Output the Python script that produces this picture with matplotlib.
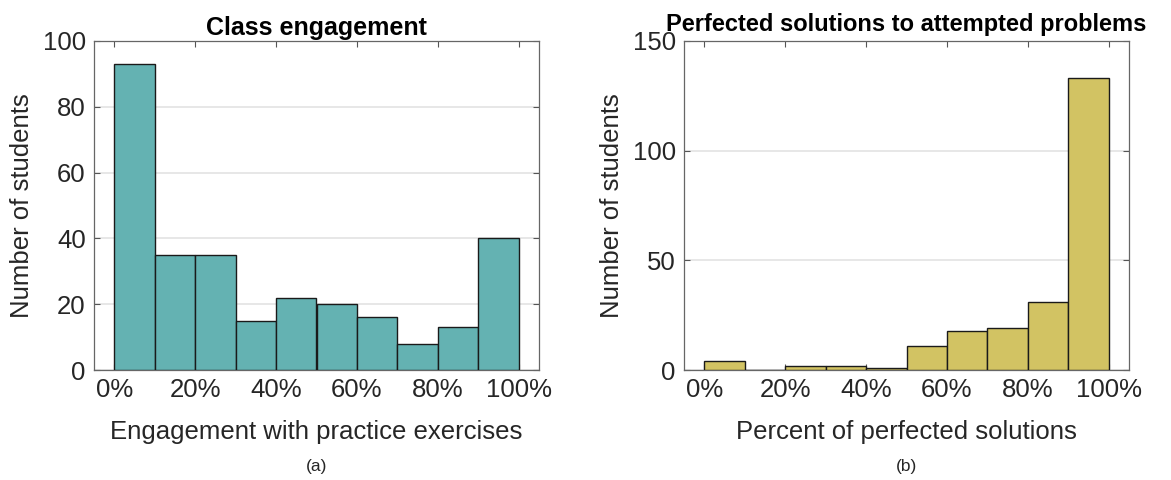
import numpy as np
import matplotlib
matplotlib.use('Agg')
import matplotlib.pyplot as plt
from matplotlib.ticker import PercentFormatter

plt.rcParams['font.family'] = ['Liberation Sans', 'DejaVu Sans']

# histogram bins (fraction of exercises), 10 equal bins from 0 to 1
bin_edges = np.linspace(0, 1, 11)

# counts per bin
engagement_counts = [93, 35, 35, 15, 22, 20, 16, 8, 13, 40]
perfected_counts = [4, 0, 2, 2, 1, 11, 18, 19, 31, 133]

x_ticks = [0, 0.2, 0.4, 0.6, 0.8, 1.0]
left_yticks = [0, 20, 40, 60, 80, 100]
right_yticks = [0, 50, 100, 150]

text_col = '#262626'
W, H = 1171, 480

fig = plt.figure(figsize=(W / 100, H / 100), dpi=100)
ax1 = fig.add_axes([94 / W, 110 / H, 445 / W, 329 / H])
ax2 = fig.add_axes([684 / W, 110 / H, 445 / W, 329 / H])


def histPanel(ax, counts, color, yticks, xlabel, title, tag, title_size,
              title_pad):
    widths = np.diff(bin_edges)
    ax.bar(bin_edges[:-1], counts, width=widths, align='edge',
           color=color, edgecolor='#1a1a1a', linewidth=1.0, zorder=3)
    ax.set_xlim(-0.05, 1.05)
    ax.set_ylim(yticks[0], yticks[-1])
    ax.set_xticks(x_ticks)
    ax.set_yticks(yticks)
    ax.xaxis.set_major_formatter(PercentFormatter(1.0, decimals=0))
    ax.yaxis.grid(True, color='#e3e3e3', linewidth=1.2, zorder=0)
    ax.set_axisbelow(True)
    ax.tick_params(direction='in', length=4, width=0.8, colors='#555555',
                   labelcolor=text_col, labelsize=18.5, top=True, right=True,
                   pad=6)
    for s in ax.spines.values():
        s.set_color('#666666')
        s.set_linewidth(0.9)
    ax.set_xlabel(xlabel, fontsize=18.5, color=text_col)
    ax.xaxis.set_label_coords(0.5, -0.188)
    ax.xaxis.label.set_va('center')
    ax.set_ylabel('Number of students', fontsize=18.5, color=text_col)
    ax.yaxis.set_label_coords(-0.162, 0.5)
    ax.yaxis.label.set_va('center')
    ax.set_title(title, fontsize=title_size, fontweight='bold', color='black',
                 pad=title_pad)
    ax.text(0.5, -0.292, tag, transform=ax.transAxes, ha='center', va='center',
            fontsize=12.5, color=text_col)


histPanel(ax1, engagement_counts, '#64b2b2', left_yticks,
          'Engagement with practice exercises', 'Class engagement', '(a)',
          18, 4)
histPanel(ax2, perfected_counts, '#d2c363', right_yticks,
          'Percent of perfected solutions',
          'Perfected solutions to attempted problems', '(b)', 17, 7)

fig.savefig('out.png', dpi=100)
